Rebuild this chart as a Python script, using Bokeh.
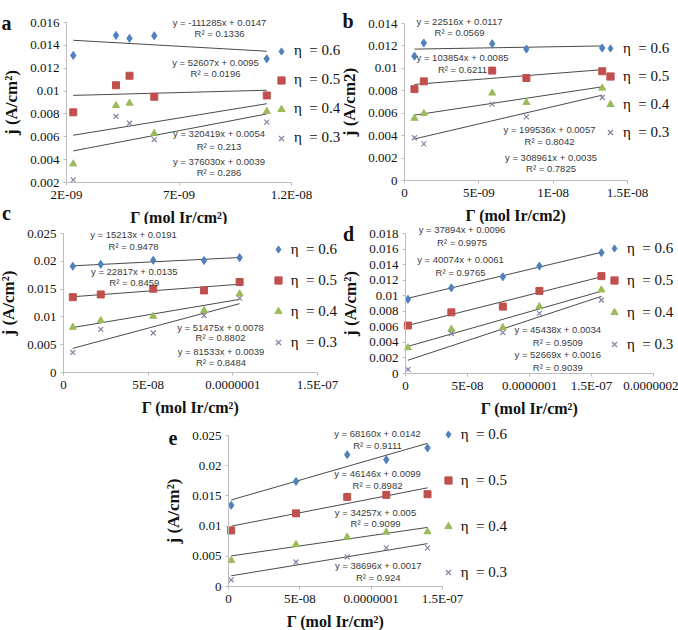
import math
from bokeh.plotting import figure
from bokeh.layouts import column, row
from bokeh.models import (Range1d, FixedTicker, CustomJSTickFormatter, Label,
                          Legend, LegendItem, Spacer)
from bokeh.embed import file_html
from bokeh.resources import INLINE

# ---------------- data ----------------
ETA_LABELS = ["η  = 0.6", "η  = 0.5", "η  = 0.4", "η  = 0.3"]

# panel a
A_GAMMA = [2.3e-9, 4.2e-9, 4.8e-9, 5.9e-9, 1.09e-8]
A_J06 = [0.01312, 0.01487, 0.01461, 0.01484, 0.01282]
A_J05 = [0.00814, 0.01051, 0.01134, 0.00950, 0.00962]
A_J04 = [0.00363, 0.00873, 0.00894, 0.00630, 0.00823]
A_J03 = [0.00223, 0.00778, 0.00719, 0.00576, 0.00728]
A_SLOPE = [-111285, 52607, 320419, 376030]
A_INTERCEPT = [0.0147, 0.0095, 0.0054, 0.0039]
A_R2 = ["0.1336", "0.0196", "0.213", "0.286"]
A_XTICKS = [2e-9, 7e-9, 1.2e-8]
A_XLABELS = ["2E-09", "7E-09", "1.2E-08"]
A_YTICKS = [0.002, 0.004, 0.006, 0.008, 0.010, 0.012, 0.014, 0.016]
A_YLABELS = ["0.002", "0.004", "0.006", "0.008", "0.01", "0.012", "0.014", "0.016"]

# panel b
B_GAMMA = [0.67e-9, 1.3e-9, 5.9e-9, 8.2e-9, 1.33e-8]
B_J06 = [0.01109, 0.01226, 0.01220, 0.01172, 0.01181]
B_J05 = [0.00815, 0.00884, 0.00980, 0.00914, 0.00974]
B_J04 = [0.00555, 0.00597, 0.00780, 0.00696, 0.00824]
B_J03 = [0.00381, 0.00327, 0.00681, 0.00567, 0.00740]
B_SLOPE = [22516, 103854, 199536, 308961]
B_INTERCEPT = [0.0117, 0.0085, 0.0057, 0.0035]
B_R2 = ["0.0569", "0.6211", "0.8042", "0.7825"]
B_XTICKS = [0, 5e-9, 1e-8, 1.5e-8]
B_XLABELS = ["0", "5E-09", "1E-08", "1.5E-08"]
B_YTICKS = [0, 0.002, 0.004, 0.006, 0.008, 0.010, 0.012, 0.014]
B_YLABELS = ["0", "0.002", "0.004", "0.006", "0.008", "0.01", "0.012", "0.014"]

# panel c
C_GAMMA = [5.5e-9, 2.2e-8, 5.3e-8, 8.3e-8, 1.04e-7]
C_J06 = [0.01910, 0.01946, 0.02018, 0.02015, 0.02066]
C_J05 = [0.01355, 0.01404, 0.01506, 0.01476, 0.01627]
C_J04 = [0.00813, 0.00934, 0.01012, 0.01114, 0.01416]
C_J03 = [0.00361, 0.00777, 0.00710, 0.01024, 0.01337]
C_SLOPE = [15213, 22817, 51475, 81533]
C_INTERCEPT = [0.0191, 0.0135, 0.0078, 0.0039]
C_R2 = ["0.9478", "0.8459", "0.8802", "0.8484"]
C_XTICKS = [0, 5e-8, 1e-7, 1.5e-7]
C_XLABELS = ["0", "5E-08", "0.0000001", "1.5E-07"]
C_YTICKS = [0, 0.005, 0.010, 0.015, 0.020, 0.025]
C_YLABELS = ["0", "0.005", "0.01", "0.015", "0.02", "0.025"]

# panel d
D_GAMMA = [2e-9, 3.7e-8, 7.85e-8, 1.08e-7, 1.58e-7]
D_J06 = [0.00954, 0.01101, 0.01243, 0.01381, 0.01554]
D_J05 = [0.00617, 0.00786, 0.00860, 0.01062, 0.01252]
D_J04 = [0.00332, 0.00570, 0.00591, 0.00860, 0.01075]
D_J03 = [0.00052, 0.00514, 0.00527, 0.00773, 0.00945]
D_SLOPE = [37894, 40074, 45438, 52669]
D_INTERCEPT = [0.0096, 0.0061, 0.0034, 0.0016]
D_R2 = ["0.9975", "0.9765", "0.9509", "0.9039"]
D_XTICKS = [0, 5e-8, 1e-7, 1.5e-7, 2e-7]
D_XLABELS = ["0", "5E-08", "0.0000001", "1.5E-07", "0.0000002"]
D_YTICKS = [0, 0.002, 0.004, 0.006, 0.008, 0.010, 0.012, 0.014, 0.016, 0.018]
D_YLABELS = ["0", "0.002", "0.004", "0.006", "0.008", "0.01", "0.012", "0.014", "0.016", "0.018"]

# panel e
E_GAMMA = [1.9e-9, 4.73e-8, 8.32e-8, 1.106e-7, 1.395e-7]
E_J06 = [0.01344, 0.01739, 0.02183, 0.02100, 0.02294]
E_J05 = [0.00928, 0.01211, 0.01483, 0.01517, 0.01528]
E_J04 = [0.00433, 0.00694, 0.00817, 0.00900, 0.00906]
E_J03 = [0.00111, 0.00406, 0.00489, 0.00639, 0.00639]
E_SLOPE = [68160, 46146, 34257, 38696]
E_INTERCEPT = [0.0142, 0.0099, 0.005, 0.0017]
E_R2 = ["0.9111", "0.8982", "0.9099", "0.924"]
E_XTICKS = [0, 5e-8, 1e-7, 1.5e-7]
E_XLABELS = ["0", "5E-08", "0.0000001", "1.5E-07"]
E_YTICKS = [0, 0.005, 0.010, 0.015, 0.020, 0.025]
E_YLABELS = ["0", "0.005", "0.01", "0.015", "0.02", "0.025"]

XLABEL_SUP = "Γ (mol Ir/cm²)"
XLABEL_PLAIN = "Γ (mol Ir/cm2)"
YLABEL_SUP = "j (A/cm²)"
YLABEL_PLAIN = "j (A/cm2)"

# ---------------- styling / layout ----------------
COLORS = ["#4F81BD", "#C0504D", "#9BBB59", "#8484A4"]
MARKERS = [("diamond", 8), ("square", 7), ("triangle", 7), ("x", 7)]
AXIS = "#BDBDBD"
TEXT = "#111111"
EQ_COLOR = "#3a3a3a"
TREND = "#4a4a4a"

# fig = canvas box on the page; frame = page pixels of the axis extents
PANELS = [
    dict(gamma=A_GAMMA, js=[A_J06, A_J05, A_J04, A_J03], slope=A_SLOPE,
         icpt=A_INTERCEPT, r2=A_R2, xr=(2e-9, 1.2e-8), yr=(0.002, 0.016),
         xt=A_XTICKS, xl=A_XLABELS, yt=A_YTICKS, yl=A_YLABELS,
         xlab=XLABEL_SUP, ylab=YLABEL_SUP,
         fig=(0, 0, 340, 224), frame=(66, 22, 291, 182),
         legend=(281, 50.7, 29.3), letters=[("a", 6, 22), ("c", 6, 212)],
         eqs=[(219, 21.7, 32.7), (215, 61.7, 73.3), (218.5, 133.3, 145.7), (218.5, 160.7, 172.3)]),
    dict(gamma=B_GAMMA, js=[B_J06, B_J05, B_J04, B_J03], slope=B_SLOPE,
         icpt=B_INTERCEPT, r2=B_R2, xr=(0, 1.5e-8), yr=(0, 0.014),
         xt=B_XTICKS, xl=B_XLABELS, yt=B_YTICKS, yl=B_YLABELS,
         xlab=XLABEL_PLAIN, ylab=YLABEL_PLAIN,
         fig=(340, 0, 338, 224), frame=(404, 23, 627, 180),
         legend=(610, 48.3, 27.8), letters=[("b", 347.5, 20)],
         eqs=[(459, 20.7, 32.3), (462, 56.7, 69), (549, 129.3, 141), (550.5, 156.7, 168.3)]),
    dict(gamma=C_GAMMA, js=[C_J06, C_J05, C_J04, C_J03], slope=C_SLOPE,
         icpt=C_INTERCEPT, r2=C_R2, xr=(0, 1.5e-7), yr=(0, 0.025),
         xt=C_XTICKS, xl=C_XLABELS, yt=C_YTICKS, yl=C_YLABELS,
         xlab=XLABEL_SUP, ylab=YLABEL_SUP,
         fig=(0, 224, 340, 200), frame=(63, 233, 317, 372),
         legend=(277.7, 249, 30.6), letters=[],
         eqs=[(133, 234.3, 245.7), (133.8, 271, 282.3), (220, 326.7, 337.3), (220.5, 350.7, 362.3)]),
    dict(gamma=D_GAMMA, js=[D_J06, D_J05, D_J04, D_J03], slope=D_SLOPE,
         icpt=D_INTERCEPT, r2=D_R2, xr=(0, 2e-7), yr=(0, 0.018),
         xt=D_XTICKS, xl=D_XLABELS, yt=D_YTICKS, yl=D_YLABELS,
         xlab=XLABEL_SUP, ylab=YLABEL_SUP,
         fig=(340, 224, 338, 200), frame=(405, 233, 653, 373),
         legend=(614, 248.3, 31.9), letters=[("d", 348, 233)],
         eqs=[(461.5, 229.3, 242.3), (460, 259, 271.7), (557.3, 329.3, 341.7), (557.3, 354.3, 366.7)]),
    dict(gamma=E_GAMMA, js=[E_J06, E_J05, E_J04, E_J03], slope=E_SLOPE,
         icpt=E_INTERCEPT, r2=E_R2, xr=(0, 1.5e-7), yr=(0, 0.025),
         xt=E_XTICKS, xl=E_XLABELS, yt=E_YTICKS, yl=E_YLABELS,
         xlab=XLABEL_SUP, ylab=YLABEL_SUP,
         fig=(150, 424, 380, 206), frame=(228, 435, 442, 586),
         legend=(447.7, 434, 46.1), letters=[("e", 172.5, 437)],
         eqs=[(377, 433.3, 445), (377, 472.7, 485), (375, 511.7, 523.3), (377.7, 565, 576.7)]),
]


def tick_formatter(tick_values, tick_labels):
    return CustomJSTickFormatter(args=dict(tvals=tick_values, tlabs=tick_labels), code="""
        let best = 0, bd = Infinity;
        for (let i = 0; i < tvals.length; i++) {
            const dd = Math.abs(tvals[i] - tick);
            if (dd < bd) { bd = dd; best = i; }
        }
        return tlabs[best];
    """)


def make_panel(d):
    fx, fy, fw, fh = d["fig"]
    fl, ft, fr, fb = d["frame"]
    x0, x1 = d["xr"]
    y0, y1 = d["yr"]
    ux = (x1 - x0) / (fr - fl)
    uy = (y1 - y0) / (fb - ft)
    xr = Range1d(x0 - (fl - fx) * ux, x1 + (fx + fw - fr) * ux)
    yr = Range1d(y0 - (fy + fh - fb) * uy, y1 + (ft - fy) * uy)
    p = figure(width=fw, height=fh, x_range=xr, y_range=yr,
               output_backend="svg", toolbar_location=None,
               min_border_left=0, min_border_right=0,
               min_border_top=0, min_border_bottom=0)
    p.outline_line_color = None
    p.xgrid.visible = False
    p.ygrid.visible = False
    p.background_fill_color = "white"
    p.border_fill_color = "white"

    for ax, ticks, labels in ((p.xaxis[0], d["xt"], d["xl"]), (p.yaxis[0], d["yt"], d["yl"])):
        ax.ticker = FixedTicker(ticks=ticks)
        ax.formatter = tick_formatter(ticks, labels)
        ax.axis_line_color = AXIS
        ax.major_tick_line_color = AXIS
        ax.minor_tick_line_color = None
        ax.major_tick_in = 0
        ax.major_tick_out = 3
        ax.major_label_text_font = "Liberation Serif"
        ax.major_label_text_font_size = "13px"
        ax.major_label_text_color = TEXT
        ax.axis_label_text_font = "Liberation Serif"
        ax.axis_label_text_font_style = "bold"
        ax.axis_label_text_color = TEXT
    p.xaxis.fixed_location = y0
    p.yaxis.fixed_location = x0
    p.xaxis.bounds = (x0, x1)
    p.yaxis.bounds = (y0, y1)
    p.xaxis.major_label_standoff = 1
    p.yaxis.major_label_standoff = 4
    p.xaxis.axis_label = d["xlab"]
    p.yaxis.axis_label = d["ylab"]
    p.xaxis.axis_label_text_font_size = "16px"
    p.yaxis.axis_label_text_font_size = "17px"
    p.xaxis.axis_label_standoff = 4
    p.yaxis.axis_label_standoff = 6

    gamma = d["gamma"]
    g0, g1 = min(gamma), max(gamma)
    # trend lines (from the printed fit equations)
    for k in range(4):
        m, b = d["slope"][k], d["icpt"][k]
        p.line([g0, g1], [b + m * g0, b + m * g1], line_color=TREND, line_width=1)

    renderers = []
    for k in range(4):
        mk, sz = MARKERS[k]
        if mk == "x":
            r = p.scatter(gamma, d["js"][k], marker=mk, size=sz, line_color=COLORS[k],
                          line_width=1.2)
        else:
            r = p.scatter(gamma, d["js"][k], marker=mk, size=sz, fill_color=COLORS[k],
                          line_color=COLORS[k])
        renderers.append(r)

    def screen_label(px, py, text, font, size, style="normal", color=TEXT):
        p.add_layout(Label(x=px - fx, y=(fy + fh) - py, x_units="screen", y_units="screen",
                           text=text, text_font=font, text_font_size=size,
                           text_font_style=style, text_color=color,
                           text_align="center", text_baseline="middle"))

    # legend
    gx, gy0, pitch = d["legend"]
    G = 18
    spacing = int(round(pitch - G))
    height = 4 * G + 3 * spacing
    items = [LegendItem(label=ETA_LABELS[k], renderers=[renderers[k]]) for k in range(4)]
    leg = Legend(items=items, location=(gx - G / 2 - fx, (fy + fh) - (gy0 - G / 2 + height)),
                 glyph_width=G, glyph_height=G, label_height=G, label_standoff=4,
                 spacing=spacing, padding=0, margin=0,
                 border_line_color=None, background_fill_alpha=0,
                 label_text_font="Liberation Serif", label_text_font_size="15px",
                 label_text_color=TEXT)
    p.add_layout(leg)

    # fit equations
    for k in range(4):
        cx, ya, yb = d["eqs"][k]
        eq = f"y = {d['slope'][k]}x + {d['icpt'][k]}"
        screen_label(cx, ya, eq, "Liberation Sans", "9.5px", color=EQ_COLOR)
        screen_label(cx, yb, f"R² = {d['r2'][k]}", "Liberation Sans", "9.5px", color=EQ_COLOR)

    for letter, lx, ly in d["letters"]:
        screen_label(lx, ly, letter, "Liberation Serif", "20px", style="bold")
    return p


figs = [make_panel(d) for d in PANELS]
layout = column(
    row(figs[0], figs[1]),
    row(figs[2], figs[3]),
    row(Spacer(width=150, height=206), figs[4]),
)

open("out.html", "w").write(file_html(layout, INLINE))
